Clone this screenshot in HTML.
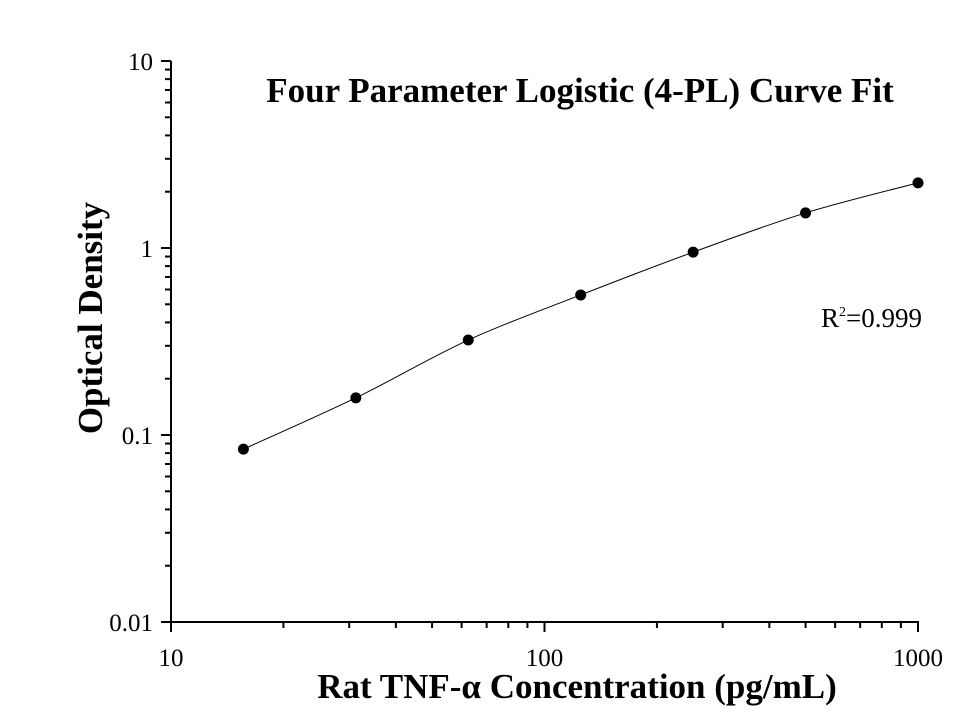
<!DOCTYPE html>
<html><head><meta charset="utf-8"><style>
body{margin:0;background:#fff}
svg text{font-family:"Liberation Serif",serif;fill:#000}
</style></head><body>
<svg width="971" height="708" xmlns="http://www.w3.org/2000/svg">
<g id="axes"></g>
<path id="curve" fill="none" stroke="#000" stroke-width="1"/>
<g id="pts"></g>
<text x="580" y="102" text-anchor="middle" font-size="35" font-weight="bold">Four Parameter Logistic (4-PL) Curve Fit</text>
<text x="821" y="327" font-size="27">R<tspan dy="-11" font-size="14">2</tspan><tspan dy="11">=0.999</tspan></text>
<text x="577" y="698" text-anchor="middle" font-size="35" font-weight="bold">Rat TNF-α Concentration (pg/mL)</text>
<text transform="translate(102,318) rotate(-90)" text-anchor="middle" font-size="35" font-weight="bold">Optical Density</text>
</svg>
<script>
const concentrations=[15.625,31.25,62.5,125,250,500,1000];
const odValues=[0.084,0.158,0.322,0.561,0.95,1.54,2.23];
const xTickLabels=["10","100","1000"];
const yTickLabels=["0.01","0.1","1","10"];
const X0=171,X1=918,Y0=622,Y1=61;
const xs=v=>X0+(Math.log10(v)-1)/2*(X1-X0);
const ys=v=>Y0-(Math.log10(v)+2)/3*(Y0-Y1);
const NS="http://www.w3.org/2000/svg";
const ax=document.getElementById('axes');
function line(x1,y1,x2,y2,w,name){const l=document.createElementNS(NS,'line');
l.setAttribute('x1',x1);l.setAttribute('y1',y1);l.setAttribute('x2',x2);l.setAttribute('y2',y2);
l.setAttribute('stroke','#000');l.setAttribute('stroke-width',w);


ax.appendChild(l);}
function text(x,y,s,anchor,name){const t=document.createElementNS(NS,'text');
t.setAttribute('x',x);t.setAttribute('y',y);t.setAttribute('text-anchor',anchor);t.setAttribute('font-size','25');t.textContent=s;


ax.appendChild(t);}
line(X0,Y0,X1+1,Y0,2,'x-axis-line');
line(X0,Y0+1,X0,Y1,2,'y-axis-line');
for(let d=0;d<3;d++){const base=Math.pow(10,d+1);
 for(let m=1;m<10;m++){if(d==2&&m>1)break;const v=base*m;const x=xs(v);
  line(x,Y0,x,Y0+(m==1?10:6),2,m==1?'x-major-tick':'x-minor-tick');}}
xTickLabels.forEach(s=>text(xs(+s),666,s,'middle','x-tick-label'));
for(let d=0;d<4;d++){const base=Math.pow(10,d-2);
 for(let m=1;m<10;m++){if(d==3&&m>1)break;const v=base*m;const y=ys(v);
  line(X0,y,X0-(m==1?10:6),y,2,m==1?'y-major-tick':'y-minor-tick');}}
yTickLabels.forEach(s=>text(X0-18,ys(+s)+9,s,'end','y-tick-label'));
const P=concentrations.map((c,i)=>[xs(c),ys(odValues[i])]);
let d='M'+P[0][0]+','+P[0][1];
for(let i=0;i<P.length-1;i++){const p0=P[Math.max(0,i-1)],p1=P[i],p2=P[i+1],p3=P[Math.min(P.length-1,i+2)];
 d+=' C'+(p1[0]+(p2[0]-p0[0])/6)+','+(p1[1]+(p2[1]-p0[1])/6)+' '+(p2[0]-(p3[0]-p1[0])/6)+','+(p2[1]-(p3[1]-p1[1])/6)+' '+p2[0]+','+p2[1];}
document.getElementById('curve').setAttribute('d',d);
const g=document.getElementById('pts');
P.forEach(p=>{const c=document.createElementNS(NS,'circle');c.setAttribute('cx',p[0]);c.setAttribute('cy',p[1]);c.setAttribute('r',5.5);


g.appendChild(c);});
</script>
</body></html>
